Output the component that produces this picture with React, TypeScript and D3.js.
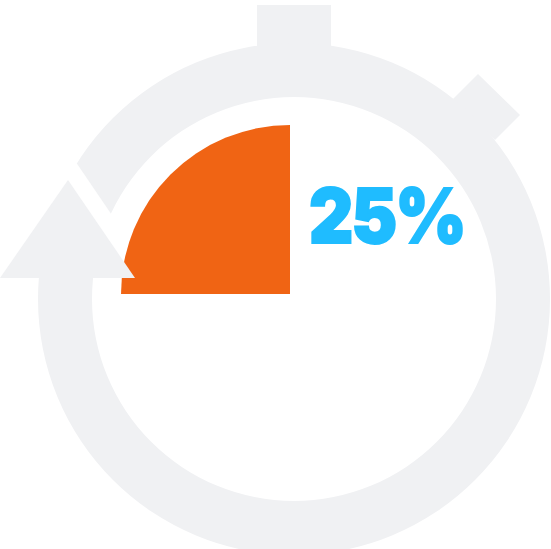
import React from "react";
import * as d3 from "d3";

// Progress shown by the gauge, in percent
const progressValue = 25;
const progressLabels = ["25%"];
const domainPercent = [0, 100];

const W = 551;
const H = 549;
const GREY = "#f0f1f3";
const ORANGE = "#f06414";
const BLUE = "#1fbcff";

const ring = { cx: 294, cy: 299, inner: 202, outer: 256 };
const wedge = { cx: 290, cy: 294, r: 169 };

const toPath = (pts: [number, number][]) => d3.line()(pts) + "Z";

export default function App() {
  const angle = d3.scaleLinear().domain(domainPercent).range([0, 2 * Math.PI]);

  const ringPath = d3.arc()({
    innerRadius: ring.inner,
    outerRadius: ring.outer,
    startAngle: 0,
    endAngle: 2 * Math.PI,
  } as any) as string;

  // The wedge sweeps anticlockwise from twelve o'clock
  const wedgePath = d3.arc()({
    innerRadius: 0,
    outerRadius: wedge.r,
    startAngle: -angle(progressValue),
    endAngle: 0,
  } as any) as string;

  const crownKnob: [number, number][] = [[257, 5], [331, 5], [331, 60], [257, 60]];
  const sideKnob: [number, number][] = [[478, 74], [520, 115], [495, 140], [453, 99]];
  const gap: [number, number][] = [[50, 124], [137, 252], [137, 278], [0, 278], [0, 124]];
  const arrowHead: [number, number][] = [[0, 278], [68, 180], [135, 278]];

  return (
    <svg
      width={W}
      height={H}
      viewBox={`0 0 ${W} ${H}`}
      style={{ position: "absolute", left: 0, top: 0, display: "block" }}
    >
      <rect width={W} height={H} fill="#ffffff" />
      <path d={toPath(crownKnob)} fill={GREY} />
      <path d={toPath(sideKnob)} fill={GREY} />
      <path d={ringPath} transform={`translate(${ring.cx},${ring.cy})`} fill={GREY} />
      <path d={toPath(gap)} fill="#ffffff" />
      <path d={wedgePath} transform={`translate(${wedge.cx},${wedge.cy})`} fill={ORANGE} />
      <path d={toPath(arrowHead)} fill={GREY} />
      <text
        x={309}
        y={243}
        fontFamily="Inter"
        fontWeight={900}
        fontSize={76}
        letterSpacing={-2}
        stroke={BLUE}
        strokeWidth={2}
        textLength={156}
        lengthAdjust="spacingAndGlyphs"
        fill={BLUE}
      >
        {progressLabels[0]}
      </text>
    </svg>
  );
}
